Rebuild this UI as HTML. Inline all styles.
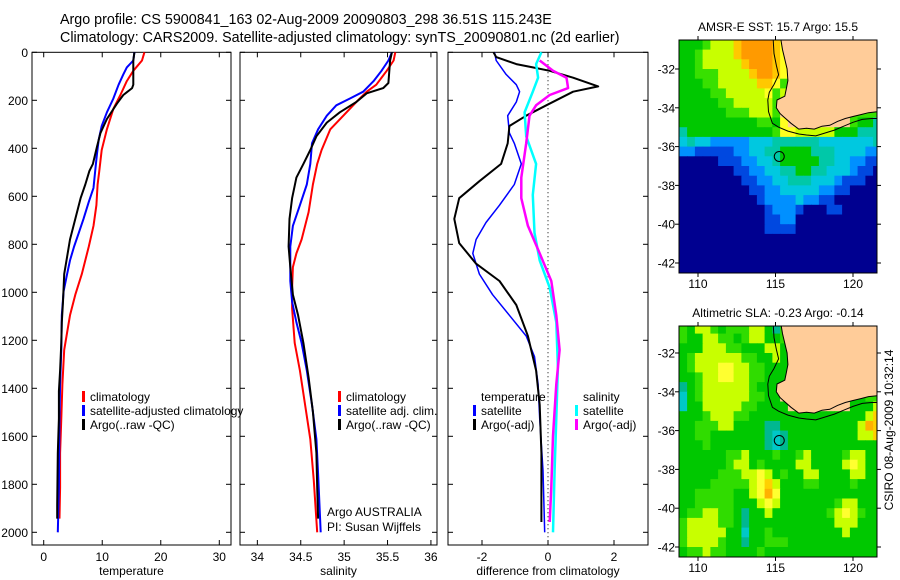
<!DOCTYPE html>
<html><head><meta charset="utf-8"><style>
html,body{margin:0;padding:0;background:#fff;}
svg{display:block;font-family:"Liberation Sans",sans-serif;}
text{fill:#000;}
</style></head><body>
<svg id="fig" width="900" height="580" viewBox="0 0 900 580">
<text x="60" y="24" font-size="14.3">Argo profile: CS 5900841_163 02-Aug-2009 20090803_298 36.51S 115.243E</text>
<text x="60" y="42" font-size="14.3">Climatology: CARS2009. Satellite-adjusted climatology: synTS_20090801.nc (2d earlier)</text>
<g id="panels"></g>
<text x="778" y="31" font-size="12" text-anchor="middle">AMSR-E SST: 15.7 Argo: 15.5</text>
<text x="778" y="317" font-size="12" text-anchor="middle">Altimetric SLA: -0.23 Argo: -0.14</text>
<text transform="translate(893,430) rotate(-90)" font-size="12" text-anchor="middle">CSIRO 08-Aug-2009 10:32:14</text>
</svg>
<script>
// ---------- profile data ----------
const tClimD=[0,34,77,120,178,235,321,407,494,551,637,723,809,924,1010,1096,1168,1240,1383,1526,1670,1813,1943];
const tClimV=[17.2,16.8,15.3,14.2,13.1,11.9,10.8,9.9,9.5,9.2,9.0,8.5,7.7,6.5,5.4,4.5,4.0,3.5,3.2,3.0,2.8,2.8,2.7];
const tSatD=[0,34,63,92,135,192,250,307,364,422,494,565,623,694,752,809,867,924,996,1096,1240,1383,1526,1813,2000];
const tSatV=[15.5,15.3,14.2,13.6,12.8,11.9,10.8,9.9,9.4,9.1,8.8,8.5,7.7,6.8,6.0,5.2,4.5,4.0,3.4,3.1,3.0,2.8,2.7,2.6,2.4];
const tArgD=[0,34,135,149,178,214,278,336,393,465,494,551,608,694,780,852,924,1039,1125,1211,1326,1412,1526,1670,1885,1943];
const tArgV=[15.5,15.3,15.3,15.1,13.6,12.5,10.8,9.7,9.1,8.4,7.8,7.1,6.3,5.4,4.5,4.0,3.5,3.3,3.1,3.0,2.8,2.6,2.6,2.4,2.3,2.3];
const sClimD=[0,34,77,135,164,207,264,321,407,465,551,666,780,838,895,981,1067,1211,1326,1469,1612,1785,2000];
const sClimV=[35.59,35.57,35.49,35.37,35.26,35.14,34.99,34.84,34.74,34.69,34.64,34.59,34.51,34.45,34.41,34.40,34.40,34.43,34.49,34.55,34.61,34.65,34.69];
const sSatD=[0,34,77,120,164,192,221,264,321,379,465,551,637,723,809,953,1039,1125,1211,1326,1469,1612,1756,2000];
const sSatV=[35.55,35.51,35.43,35.34,35.22,35.07,34.91,34.80,34.70,34.63,34.61,34.57,34.49,34.41,34.38,34.38,34.40,34.45,34.51,34.57,34.63,34.68,34.70,34.73];
const sArgD=[0,34,128,149,171,207,250,293,350,407,465,522,608,694,809,895,1010,1096,1211,1355,1498,1670,1813,1943];
const sArgV=[35.55,35.53,35.51,35.45,35.26,35.14,34.95,34.80,34.68,34.61,34.53,34.45,34.40,34.37,34.36,34.38,34.41,34.47,34.53,34.59,34.64,34.68,34.69,34.70];
const dTSatD=[0,34,92,135,164,207,264,336,379,465,551,637,709,780,838,924,1010,1096,1182,1268,1383,1526,1742,2000];
const dTSatV=[-1.62,-1.57,-1.27,-0.96,-0.86,-0.96,-1.22,-1.17,-1.02,-0.81,-1.02,-1.47,-1.88,-2.18,-2.28,-2.08,-1.68,-1.17,-0.66,-0.41,-0.30,-0.25,-0.15,-0.10];
const dTArgD=[0,20,49,63,77,106,142,164,221,264,307,379,465,537,608,694,795,881,953,1053,1182,1326,1469,1670,1957];
const dTArgV=[-1.65,-1.57,-0.96,-0.46,0.05,0.76,1.52,0.76,-0.05,-0.66,-1.17,-1.22,-1.42,-2.08,-2.69,-2.84,-2.69,-2.18,-1.47,-0.96,-0.61,-0.36,-0.25,-0.20,-0.20];
const dSSatD=[0,49,106,164,250,350,465,594,752,867,981,1125,1312,1526,1742,2000];
const dSSatV=[-0.20,-0.36,-0.30,-0.46,-0.71,-0.66,-0.36,-0.46,-0.41,-0.25,0.05,0.25,0.30,0.25,0.20,0.15];
const dSArgD=[34,77,106,149,178,221,264,379,522,608,723,838,953,1096,1240,1383,1598,1813,1957];
const dSArgV=[-0.25,0.15,0.56,0.61,0.05,-0.36,-0.56,-0.66,-0.81,-0.81,-0.61,-0.25,0.10,0.25,0.35,0.25,0.15,0.10,0.05];
const depthTicks=[0,200,400,600,800,1000,1200,1400,1600,1800,2000];
const tempTicks=[0,10,20,30];
const salTicks=[34,34.5,35,35.5,36];
const diffTicks=[-2,0,2];
const lonTicks=[110,115,120];
const latTicks=[-32,-34,-36,-38,-40,-42];
// ---------- map data (0.5 deg cells, lon from 108.8, lat from -30.5) ----------
const sstRows=[
"GGGgyyyoOOOOoYLLLLLLLLLLLL","GGgyyyyoOOOOoYLLLLLLLLLLLL","GGgyyyyyoOOOoYLLLLLLLLLLLL","GGgggyyyyoOOoYLLLLLLLLLLLL",
"GGGggyyyyyooYgYLLLLLLLLLLL","GGGGggyyyyyYgyYLLLLLLLLLLL","GGGGGggyyyyygLLLLLLLLLLLLL","GGGGGGgggyyygLLLLLLLLLgggg",
"GGGGGGGGGGggGYLLLLLLLLgGGt","tGGGGGGGGGGGgYYyyyyyGGGttt","ctccbbbbbcccttttttccccccct","bbBBBBBbbccttGGGGtttccccbb",
"NNNNNBBBbbcctGGGGGttccbbBB","NNNNNNNBBbbccttGGttcccbBBN","NNNNNNNNBBbbcctttcccbBBBNN","NNNNNNNNNBBbbcccccbbBBNNNN",
"NNNNNNNNNNBbbbbcbbBBNNNNNN","NNNNNNNNNNNBbbbBNNNBBNNNNN","NNNNNNNNNNNBBbbNNNNNNNNNNN","NNNNNNNNNNNBBBBNNNNNNNNNNN",
"NNNNNNNNNNNNNNNNNNNNNNNNNN","NNNNNNNNNNNNNNNNNNNNNNNNNN","NNNNNNNNNNNNNNNNNNNNNNNNNN","NNNNNNNNNNNNNNNNNNNNNNNNNN"];
const slaRows=[
"gGyygGgggyyGtgLLLLLLLLLLLL","gGGyyggGgyyGGgLLLLLLLLLLLL","GGGyyyggGGGyyGLLLLLLLLLLLL","GgyyyyyyggGGyGLLLLLLLLLLLL",
"GgyyyYYyyggGGGGLLLLLLLLLLL","GGgyyYYyyggGGGGLLLLLLLLLLL","tGgyyyyyygGGGLLLLLLLLLLLLL","cGgyyyyyyggGGLLLLLLLLLGGgg",
"cGGyyyyyggGGGGLLLLLLLLGGGy","GGGgyyyggGGGGGGGGGGGGGGGyo","GGgggyyGGGGttGGGGGGGGGGyOo","GGggGGGGGGGtctGGGGGGGGGyyo",
"GGGgGGGGGGGtctGGGGGGGGGGGG","GGGGGGggyGGGgGGgyGGGGgyyGG","GGGGGGgyyGgGGGGyyGGGGyYyGG","GGGGGgggyyYyGgGGyyGGGGyyGG",
"GGGGgggggyYoyGGGggGGGGgGGG","GGgggggGGyYOYGGGGGGGGGGGGG","GGgggggGGGyYyGGGGGGGgyyGGG","GggyyggGtGGyGGGGGGGgyYygGG",
"gyyyyggGtGGGGGGGGGGGyyyGGG","gyyyyyGGcGGgGGGGGGGGGyGGGG","gyyyygGGtGGgggGGGGGGGGGGGG","GggyggGGGGgGGGGGGGGGGGGGGG"];
const coastLon=[115.35,115.45,115.6,115.75,115.8,115.7,115.6,115.1,115.05,115.3,115.5,116.0,116.5,117.0,117.5,118.0,118.5,119.0,119.5,120.0,120.5,121.0,121.6];
const coastLat=[-30.5,-31.0,-31.5,-32.0,-32.6,-33.0,-33.4,-33.6,-34.0,-34.3,-34.45,-34.8,-35.1,-35.05,-35.1,-34.95,-34.9,-34.7,-34.55,-34.45,-34.35,-34.25,-34.2];
const isoLon=[114.85,114.9,115.05,115.2,114.9,114.6,114.5,114.55,114.8,115.2,115.8,116.5,117.0,117.6,118.2,118.8,119.4,120.0,120.6,121.2,121.6];
const isoLat=[-30.5,-31.2,-31.8,-32.3,-32.8,-33.2,-33.6,-34.2,-34.8,-35.0,-35.2,-35.35,-35.4,-35.45,-35.3,-35.15,-34.95,-34.75,-34.6,-34.55,-34.55];
const argoLon=115.243, argoLat=-36.51;

const NS='http://www.w3.org/2000/svg';
const root=document.getElementById('panels');
function el(tag,attrs,parent){const e=document.createElementNS(NS,tag);for(const k in attrs)e.setAttribute(k,attrs[k]);(parent||root).appendChild(e);return e;}
function txt(s,attrs,parent){const e=el('text',attrs,parent);e.textContent=s;return e;}

const top0=52.3, bot0=545, dScale=(532.3-52.3)/2000;
function yD(d){return top0+d*dScale;}
const panels=[
 {name:'temperature',x0:32,x1:231,vmin:-2,vmax:32,ticks:tempTicks,label:'temperature',ylabels:true},
 {name:'salinity',x0:240,x1:437,vmin:33.8,vmax:36.07,ticks:salTicks,label:'salinity',ylabels:false},
 {name:'difference',x0:448,x1:648,vmin:-3.03,vmax:3.03,ticks:diffTicks,label:'difference from climatology',ylabels:false}
];
function xf(p,v){return p.x0+(v-p.vmin)/(p.vmax-p.vmin)*(p.x1-p.x0);}
function drawLine(p,D,V,color,name,w){
 let d='';for(let i=0;i<D.length;i++){d+=(i?'L':'M')+xf(p,V[i]).toFixed(1)+','+yD(D[i]).toFixed(1);}
 const e=el('path',{d:d,fill:'none',stroke:color,'stroke-width':w||2,'stroke-linejoin':'round'});
 
 
}
panels.forEach(p=>{
 const g=el('g',{});
 
 
 const r=el('rect',{x:p.x0,y:top0,width:p.x1-p.x0,height:bot0-top0,fill:'none',stroke:'#000','stroke-width':1},g);
 
 
 depthTicks.forEach(d=>{
  const y=yD(d);
  el('line',{x1:p.x0,x2:p.x0+5,y1:y,y2:y,stroke:'#000'},g);
  el('line',{x1:p.x1-5,x2:p.x1,y1:y,y2:y,stroke:'#000'},g);
  if(p.ylabels){const t=txt(String(d),{x:p.x0-4,y:y+4.5,'font-size':12,'text-anchor':'end'},g);
   
   }
 });
 p.ticks.forEach(v=>{
  const x=xf(p,v);
  el('line',{x1:x,x2:x,y1:bot0,y2:bot0-5,stroke:'#000'},g);
  el('line',{x1:x,x2:x,y1:top0,y2:top0+5,stroke:'#000'},g);
  const t=txt(String(v),{x:x,y:561,'font-size':12,'text-anchor':'middle'},g);
  
  
 });
 const l=txt(p.label,{x:(p.x0+p.x1)/2,y:575,'font-size':12,'text-anchor':'middle'},g);
 
 
});
const [P1,P2,P3]=panels;
drawLine(P1,tClimD,tClimV,'#f00','temp-climatology-line');
drawLine(P1,tSatD,tSatV,'#00f','temp-satellite-line');
drawLine(P1,tArgD,tArgV,'#000','temp-argo-line');
drawLine(P2,sClimD,sClimV,'#f00','sal-climatology-line');
drawLine(P2,sSatD,sSatV,'#00f','sal-satellite-line');
drawLine(P2,sArgD,sArgV,'#000','sal-argo-line');
const zl=el('line',{x1:xf(P3,0),x2:xf(P3,0),y1:top0,y2:bot0,stroke:'#000','stroke-dasharray':'1,3'});


drawLine(P3,dTSatD,dTSatV,'#00f','diff-temp-satellite-line',1.5);
drawLine(P3,dTArgD,dTArgV,'#000','diff-temp-argo-line');
drawLine(P3,dSSatD,dSSatV,'#0ff','diff-sal-satellite-line',2.5);
drawLine(P3,dSArgD,dSArgV,'#f0f','diff-sal-argo-line',2.5);

function legend(x,y,color,label,name){
 if(color){const m=el('rect',{x:x,y:y-10,width:3,height:11,fill:color});
  
  }
 const t=txt(label,{x:x+8,y:y,'font-size':12});
 
 
}
legend(82,401,'#f00','climatology','legend-temp-climatology');
legend(82,415,'#00f','satellite-adjusted climatology','legend-temp-satellite');
legend(82,429,'#000','Argo(..raw -QC)','legend-temp-argo');
legend(338,401,'#f00','climatology','legend-sal-climatology');
legend(338,415,'#00f','satellite adj. clim.','legend-sal-satellite');
legend(338,429,'#000','Argo(..raw -QC)','legend-sal-argo');
legend(473,401,null,'temperature','legend-temp-heading');
legend(473,415,'#00f','satellite','legend-diff-temp-satellite');
legend(473,429,'#000','Argo(-adj)','legend-diff-temp-argo');
legend(575,401,null,'salinity','legend-sal-heading');
legend(575,415,'#0ff','satellite','legend-diff-sal-satellite');
legend(575,429,'#f0f','Argo(-adj)','legend-diff-sal-argo');
legend(319,516,null,'Argo AUSTRALIA','argo-australia-label');
legend(319,531,null,'PI: Susan Wijffels','pi-label');

// ---------- maps ----------
const col={N:'#000090',B:'#0048e0',b:'#0090ff',c:'#00c8e0',t:'#00c8a8',G:'#00c800',g:'#38e000',y:'#c8ff00',Y:'#ffff20',o:'#ffc800',O:'#ff9a00',L:'#ffcc99'};
const slaCol={N:'#000090',B:'#0048e0',b:'#0090ff',c:'#00c8c8',t:'#00b890',G:'#00c800',g:'#30dc00',y:'#c8ff00',Y:'#ffff30',o:'#ffd000',O:'#ffb000',L:'#ffcc99'};
const mx0=679,mx1=877,lonL=108.8,lonPx=15.5;
function mapX(lon){return 698+(lon-110)*lonPx;}
function drawMap(name,rows,cmap,top,bot,lat32y){
 const g=el('g',{});
 
 
 const latPx=19.4;
 const mapY=lat=>lat32y+(-32-lat)*latPx;
 const cid='clip-'+name;
 const cp=el('clipPath',{id:cid},g);el('rect',{x:mx0,y:top,width:mx1-mx0,height:bot-top},cp);
 const cg=el('g',{'clip-path':'url(#'+cid+')'},g);
 rows.forEach((row,j)=>{
  for(let i=0;i<row.length;i++){
   const lon=lonL+0.5*i, lat=-30.5-0.5*j;
   const x=mapX(lon), y=mapY(lat);
   const c=el('rect',{x:x.toFixed(1),y:y.toFixed(1),width:(0.5*lonPx+0.6).toFixed(1),height:(0.5*latPx+0.6).toFixed(1),fill:cmap[row[i]]},cg);
   
   
  }
 });
 let dl='M'+mapX(coastLon[0])+','+mapY(coastLat[0]);
 for(let i=1;i<coastLon.length;i++)dl+='L'+mapX(coastLon[i]).toFixed(1)+','+mapY(coastLat[i]).toFixed(1);
 const land=el('path',{d:dl+'L'+mx1+','+mapY(-30)+'L'+mapX(coastLon[0])+','+mapY(-30)+'Z',fill:'#ffcc99',stroke:'#000','stroke-width':1},cg);
 
 
 let di='';for(let i=0;i<isoLon.length;i++)di+=(i?'L':'M')+mapX(isoLon[i]).toFixed(1)+','+mapY(isoLat[i]).toFixed(1);
 const iso=el('path',{d:di,fill:'none',stroke:'#000','stroke-width':1},cg);
 
 
 const ci=el('circle',{cx:mapX(argoLon),cy:mapY(argoLat),r:5,fill:'none',stroke:'#000','stroke-width':1},g);
 
 
 el('rect',{x:mx0,y:top,width:mx1-mx0,height:bot-top,fill:'none',stroke:'#000'},g);
 lonTicks.forEach(v=>{const x=mapX(v);
  el('line',{x1:x,x2:x,y1:top,y2:top-4,stroke:'#000'},g);
  el('line',{x1:x,x2:x,y1:bot,y2:bot+4,stroke:'#000'},g);
  const t=txt(String(v),{x:x,y:bot+15,'font-size':12,'text-anchor':'middle'},g);
  
  });
 latTicks.forEach(v=>{const y=mapY(v);
  el('line',{x1:mx0,x2:mx0-4,y1:y,y2:y,stroke:'#000'},g);
  el('line',{x1:mx1,x2:mx1+4,y1:y,y2:y,stroke:'#000'},g);
  const t=txt(String(v),{x:mx0-4,y:y+4.5,'font-size':12,'text-anchor':'end'},g);
  
  });
}
drawMap('sst-map',sstRows,col,40,273,69);
drawMap('sla-map',slaRows,slaCol,326,557,353);
</script>
</body></html>
